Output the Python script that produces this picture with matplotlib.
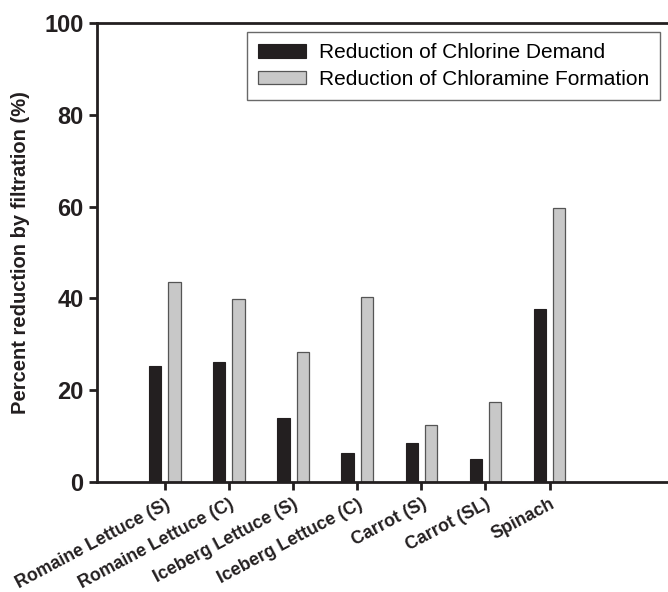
import matplotlib.pyplot as plt
import numpy as np

plt.rcParams['font.family'] = ['Liberation Sans', 'DejaVu Sans']

categories = [
    'Romaine Lettuce (S)',
    'Romaine Lettuce (C)',
    'Iceberg Lettuce (S)',
    'Iceberg Lettuce (C)',
    'Carrot (S)',
    'Carrot (SL)',
    'Spinach',
]
chlorine_demand = [25.3, 26.1, 14.0, 6.2, 8.4, 4.9, 37.7]
chloramine_formation = [43.6, 39.8, 28.3, 40.4, 12.3, 17.5, 59.6]

fig = plt.figure(figsize=(6.68, 5.92), dpi=100)
ax = fig.add_axes([0.145, 0.186, 0.86, 0.775])

x = np.arange(len(categories))
w = 0.19
ax.bar(x - 0.15, chlorine_demand, w, color='#231f20', edgecolor='#231f20',
       linewidth=0.8, label='Reduction of Chlorine Demand')
ax.bar(x + 0.15, chloramine_formation, w, color='#c8c8c8', edgecolor='#555555',
       linewidth=0.9, label='Reduction of Chloramine Formation')

ax.set_xlim(-1.06, 7.9)
ax.set_ylim(0, 100)
ax.set_yticks([0, 20, 40, 60, 80, 100])
ax.set_xticks(x)
ax.set_xticklabels(categories, rotation=28, ha='right', rotation_mode='anchor',
                   fontsize=12.8, fontweight='bold', color='#231f20')
for lab in ax.get_yticklabels():
    lab.set_fontsize(17)
    lab.set_fontweight('bold')
    lab.set_color('#231f20')

ax.set_ylabel('Percent reduction by filtration (%)', fontsize=14.5,
              fontweight='bold', color='#231f20', labelpad=10)

ax.spines['right'].set_visible(False)
for s in ['left', 'top', 'bottom']:
    ax.spines[s].set_linewidth(2)
    ax.spines[s].set_color('#231f20')
ax.tick_params(axis='both', direction='out', length=6, width=2, color='#231f20')
ax.tick_params(axis='x', pad=4)

leg = ax.legend(loc='upper right', bbox_to_anchor=(0.981, 0.981), fontsize=15,
                frameon=True, fancybox=False, edgecolor='#444444',
                handlelength=2.3, handleheight=0.6, handletextpad=0.6,
                borderpad=0.55, labelspacing=0.35, borderaxespad=0)
leg.get_frame().set_linewidth(1.0)

fig.savefig('out.png', dpi=100)
